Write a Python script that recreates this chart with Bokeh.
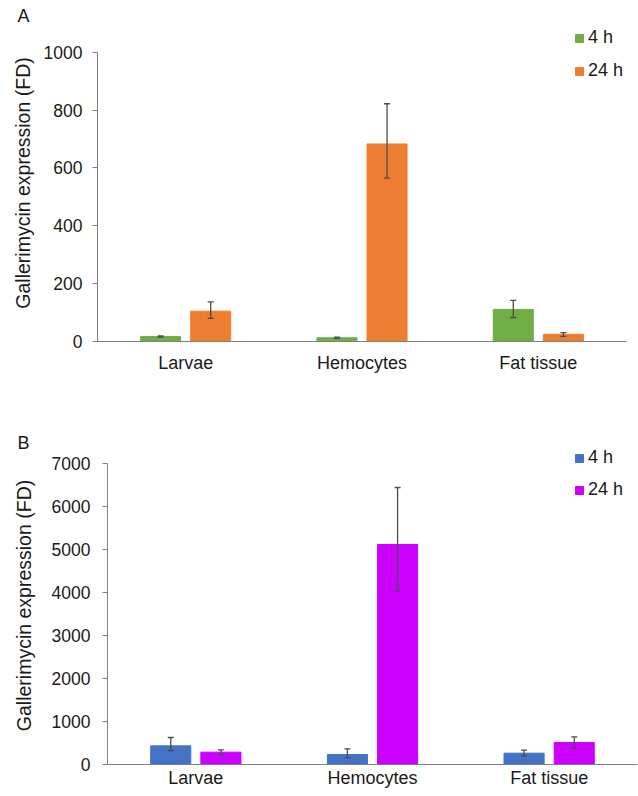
from bokeh.plotting import figure
from bokeh.models import (FactorRange, Range1d, Whisker, ColumnDataSource, Legend,
                          LegendItem, FixedTicker, TeeHead)
from bokeh.transform import dodge
from bokeh.layouts import column
from bokeh.embed import file_html
from bokeh.resources import INLINE

# ---------------- data ----------------
categories = ["Larvae", "Hemocytes", "Fat tissue"]
series_labels = ["4 h", "24 h"]

# Panel A
a_4h = [17, 13, 111]
a_4h_low = [15, 11, 83]
a_4h_high = [19, 15, 142]
a_24h = [105, 683, 25]
a_24h_low = [80, 565, 18]
a_24h_high = [137, 822, 31]
a_ticks = [0, 200, 400, 600, 800, 1000]

# Panel B
b_4h = [434, 233, 264]
b_4h_low = [326, 155, 202]
b_4h_high = [628, 364, 333]
b_24h = [287, 5116, 512]
b_24h_low = [233, 4039, 380]
b_24h_high = [341, 6442, 643]
b_ticks = [0, 1000, 2000, 3000, 4000, 5000, 6000, 7000]

y_label = "Gallerimycin expression (FD)"
FONT = "Liberation Sans"
TXT = "#1a1a1a"
AXC = "#808080"
ERR = "#4d4d4d"


def make_panel(letter, v4, lo4, hi4, v24, lo24, hi24, colors, ticks, y_end,
               height, left, right, top, bottom, xstand, ystand, lstand,
               legend_loc, legend_spacing, title_standoff):
    src = ColumnDataSource(dict(cat=categories, v4=v4, lo4=lo4, hi4=hi4,
                                v24=v24, lo24=lo24, hi24=hi24))
    p = figure(x_range=FactorRange(*categories, range_padding=0),
               y_range=Range1d(0, y_end),
               width=638, height=height, output_backend="svg",
               toolbar_location=None, frame_align=False,
               min_border_left=left, min_border_right=right,
               min_border_top=top, min_border_bottom=bottom)
    off = 0.142
    w = 0.227
    r1 = p.vbar(x=dodge("cat", -off, range=p.x_range), top="v4", width=w,
                source=src, fill_color=colors[0], line_color=colors[0])
    r2 = p.vbar(x=dodge("cat", off, range=p.x_range), top="v24", width=w,
                source=src, fill_color=colors[1], line_color=colors[1])
    for o, lo, hi in ((-off, "lo4", "hi4"), (off, "lo24", "hi24")):
        wk = Whisker(source=src, base=dodge("cat", o, range=p.x_range),
                     lower=lo, upper=hi, line_color=ERR, line_width=1.3,
                     level="overlay",
                     upper_head=TeeHead(size=6, line_color=ERR, line_width=1.3),
                     lower_head=TeeHead(size=6, line_color=ERR, line_width=1.3))
        p.add_layout(wk)

    p.xgrid.visible = False
    p.ygrid.visible = False
    p.outline_line_color = None

    ya = p.yaxis[0]
    ya.ticker = FixedTicker(ticks=ticks)
    ya.bounds = (ticks[0], ticks[-1])
    ya.major_tick_in = 0
    ya.major_tick_out = 5
    ya.minor_tick_in = 0
    ya.minor_tick_out = 0
    ya.axis_line_color = AXC
    ya.major_tick_line_color = AXC
    ya.major_label_text_font = FONT
    ya.major_label_text_font_size = "17.5px"
    ya.major_label_text_color = TXT
    ya.major_label_standoff = ystand
    ya.axis_label = y_label
    ya.axis_label_text_font = FONT
    ya.axis_label_text_font_size = "19.5px"
    ya.axis_label_text_font_style = "normal"
    ya.axis_label_text_color = TXT
    ya.axis_label_standoff = lstand

    xa = p.xaxis[0]
    xa.major_tick_line_color = None
    xa.minor_tick_line_color = None
    xa.axis_line_color = AXC
    xa.major_label_text_font = FONT
    xa.major_label_text_font_size = "18px"
    xa.major_label_text_color = TXT
    xa.major_label_standoff = xstand

    leg = Legend(items=[LegendItem(label=series_labels[0], renderers=[r1]),
                        LegendItem(label=series_labels[1], renderers=[r2])],
                 location=legend_loc, orientation="vertical",
                 glyph_width=10, glyph_height=10, label_height=20,
                 spacing=legend_spacing, padding=0, margin=0,
                 border_line_color=None, background_fill_alpha=0,
                 label_text_font=FONT, label_text_font_size="18px",
                 label_text_color=TXT, label_standoff=4)
    p.add_layout(leg)

    p.title.text = letter
    p.title.align = "left"
    p.title.offset = -(left - 17)
    p.title.standoff = title_standoff
    p.title.text_font = FONT
    p.title.text_font_size = "18px"
    p.title.text_font_style = "normal"
    p.title.text_color = TXT
    return p


pa = make_panel("A", a_4h, a_4h_low, a_4h_high, a_24h, a_24h_low, a_24h_high,
                ["#70AD47", "#ED7D31"], a_ticks, 1096,
                height=385, left=97, right=12, top=24, bottom=44,
                xstand=5, ystand=10, lstand=7,
                legend_loc=(477, 260), legend_spacing=12, title_standoff=-2)
pb = make_panel("B", b_4h, b_4h_low, b_4h_high, b_24h, b_24h_low, b_24h_high,
                ["#4472C4", "#CC00FF"], b_ticks, 7395,
                height=411, left=107, right=1, top=61, bottom=32,
                xstand=-3, ystand=12, lstand=14,
                legend_loc=(467, 264), legend_spacing=11, title_standoff=-12)

layout = column(pa, pb, spacing=0)
open("out.html", "w").write(file_html(layout, INLINE))
